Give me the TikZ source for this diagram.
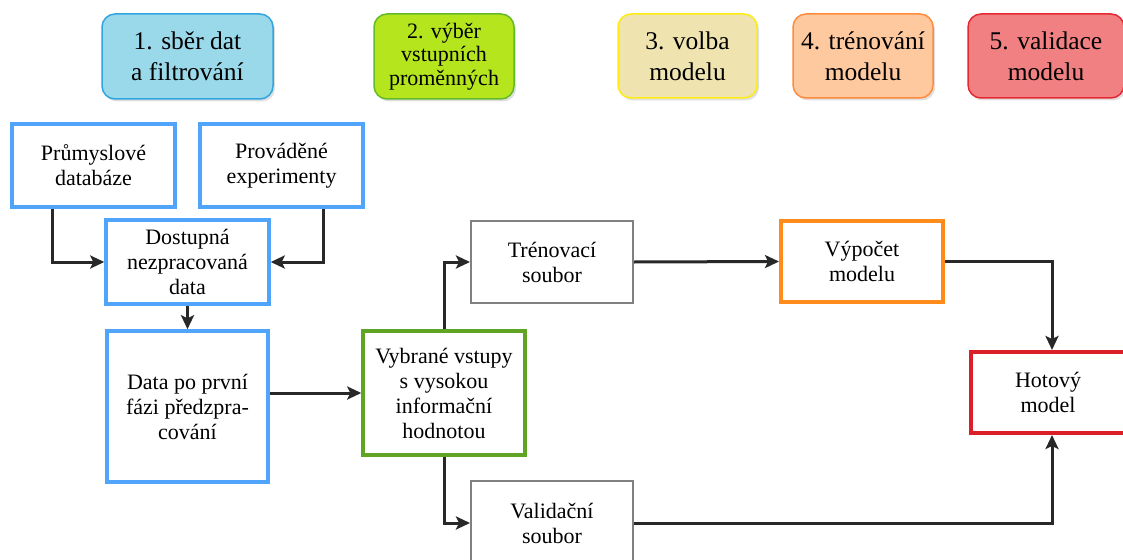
\documentclass[tikz,border=0pt]{standalone}
\usepackage{fontspec}
\setmainfont{Liberation Serif}
\newfontfamily\tnr{Liberation Serif}
\usetikzlibrary{arrows.meta,shadows}
\definecolor{cblue}{RGB}{80,165,250}
\definecolor{cgreen}{RGB}{95,165,35}
\definecolor{cgray}{RGB}{128,128,128}
\definecolor{corange}{RGB}{255,140,26}
\definecolor{cred}{RGB}{220,30,40}
\definecolor{carrow}{RGB}{40,40,40}
\definecolor{fone}{RGB}{153,217,234}
\definecolor{bone}{RGB}{50,165,225}
\definecolor{ftwo}{RGB}{181,230,29}
\definecolor{btwo}{RGB}{100,185,40}
\definecolor{fthree}{RGB}{239,228,176}
\definecolor{bthree}{RGB}{255,235,20}
\definecolor{ffour}{RGB}{255,201,160}
\definecolor{bfour}{RGB}{255,140,60}
\definecolor{ffive}{RGB}{240,128,130}
\definecolor{bfive}{RGB}{230,40,50}
\begin{document}
\begin{tikzpicture}[x=1pt,y=-1pt,
  box/.style={draw, rectangle, align=center, inner sep=0pt, fill=white,
    font=\tnr\fontsize{22}{25}\selectfont},
  bluebox/.style={box, draw=cblue, line width=3.5pt},
  graybox/.style={box, draw=cgray, line width=2pt},
  conn/.style={draw=carrow, line width=3pt, -{Stealth[length=14pt,width=13pt,inset=3pt]}},
  phase/.style={draw, rounded corners=13pt, line width=1.5pt, align=center,
    font=\tnr\fontsize{25.5}{31}\selectfont,
    drop shadow={opacity=0.25, shadow xshift=2pt, shadow yshift=-2.5pt}}]
\useasboundingbox (0,0) rectangle (1123,559);
\clip (0,0) rectangle (1123,559);

% phase labels
\node[phase, fill=fone, draw=bone, minimum width=171, minimum height=85] (p1) at (187.5,56.5) {1. sběr dat\\a filtrování};
\node[phase, fill=ftwo, draw=btwo, minimum width=140, minimum height=85,
      font=\tnr\fontsize{22}{23.5}\selectfont] (p2) at (444,56.5) {2. výběr\\vstupních\\proměnných};
\node[phase, fill=fthree, draw=bthree, minimum width=139, minimum height=84] (p3) at (687.5,56) {3. volba\\modelu};
\node[phase, fill=ffour, draw=bfour, minimum width=140, minimum height=84] (p4) at (863,56) {4. trénování\\modelu};
\node[phase, fill=ffive, draw=bfive, minimum width=156, minimum height=84] (p5) at (1046,56) {5. validace\\modelu};

% flow boxes
\node[bluebox, minimum width=163, minimum height=83] (prum) at (93.5,165.5) {Průmyslové\\databáze};
\node[bluebox, minimum width=163, minimum height=83] (prov) at (281.5,165.5) {Prováděné\\experimenty};
\node[bluebox, minimum width=163, minimum height=84] (dost) at (187.5,262) {Dostupná\\nezpracovaná\\data};
\node[bluebox, minimum width=161, minimum height=151] (data) at (187.5,406.5) {Data po první\\fázi předzpra-\\cování};
\node[box, draw=cgreen, line width=3.5pt, minimum width=162, minimum height=124] (sel) at (444,393) {Vybrané vstupy\\s vysokou\\informační\\hodnotou};
\node[graybox, minimum width=162, minimum height=82] (tren) at (552,262) {Trénovací\\soubor};
\node[graybox, minimum width=162, minimum height=84] (val) at (552,523) {Validační\\soubor};
\node[box, draw=corange, line width=4pt, minimum width=162, minimum height=81] (vyp) at (862,261.5) {Výpočet\\modelu};
\node[box, draw=cred, line width=4pt, minimum width=154, minimum height=81] (hot) at (1048,392.5) {Hotový\\model};

% connectors
\coordinate (xl) at (52,0);
\coordinate (xr) at (323,0);
\coordinate (hx) at (1052,0);
\draw[conn] (prum.south -| xl) |- (dost.west);
\draw[conn] (prov.south -| xr) |- (dost.east);
\draw[conn] (dost.south) -- (data.north);
\draw[conn] (data.east |- sel.west) -- (sel.west);
\draw[conn] (sel.north) |- (tren.west);
\draw[conn] (sel.south) |- (val.west);
\draw[conn] (tren.east) -- (vyp.west);
\draw[conn] (vyp.east) -| (hx |- hot.north);
\draw[conn] (val.east) -| (hx |- hot.south);
\end{tikzpicture}
\end{document}
